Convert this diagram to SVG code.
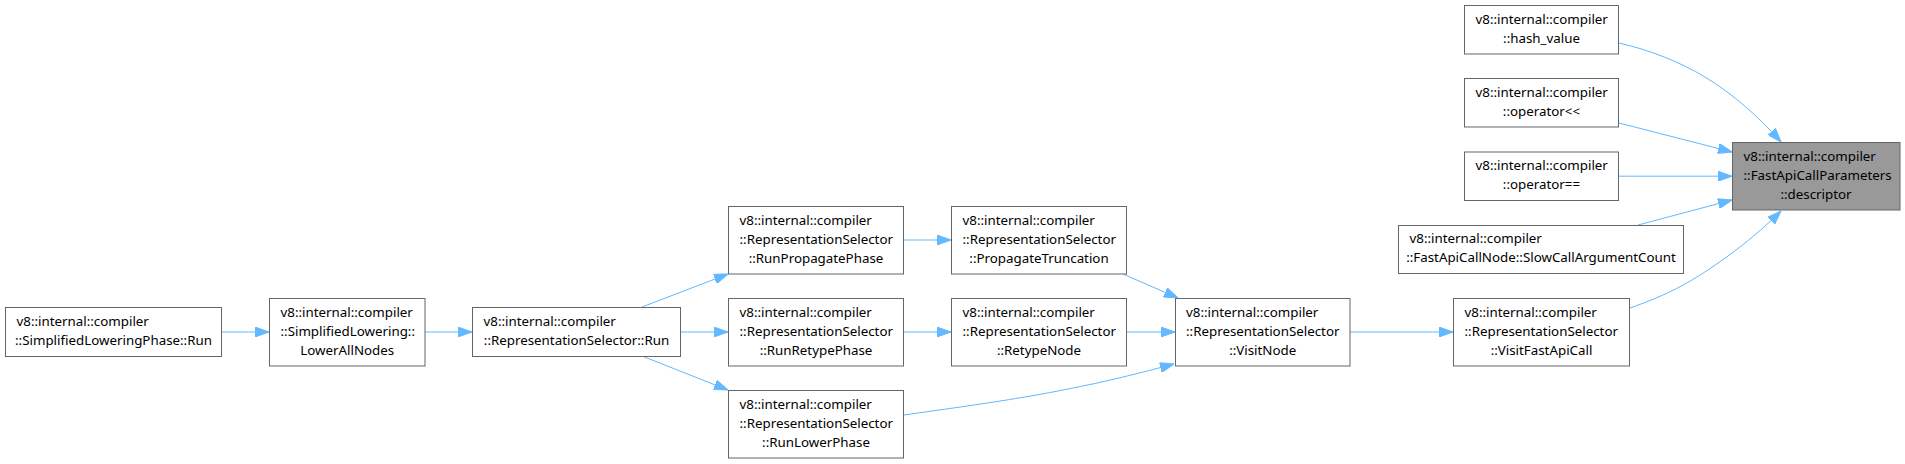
<svg xmlns="http://www.w3.org/2000/svg" width="1905" height="464" viewBox="0 0 1905 464">
<style>
.n rect{fill:#fff;stroke:#666;stroke-width:1}
.n.h rect{fill:#999}
.n text{font-family:"Noto Sans","Open Sans",sans-serif;font-size:13.33px;fill:#000}
.n text.m{text-anchor:middle}
.e path{fill:none;stroke:#63b8ff;stroke-width:1;marker-end:url(#ah)}
</style>
<defs>
<marker id="ah" markerUnits="userSpaceOnUse" markerWidth="14" markerHeight="10" viewBox="0 0 14 10" refX="14" refY="5" orient="auto">
<path d="M0,0 L14,5 L0,10 z" fill="#63b8ff" stroke="#63b8ff" stroke-width="1"/>
</marker>
</defs>
<rect width="1905" height="464" fill="#fff"/>
<g id="edges" class="e">
<path d="M1619,43 C1650,50 1680,62 1705,77 C1733,94 1758,116 1781,142"/>
<path d="M1619,123 L1732,152"/>
<path d="M1619,176.2 L1732,176.2"/>
<path d="M1638,225 L1732,200"/>
<path d="M1630,308 C1650,301 1672,292 1692,280 C1722,262 1755,237 1781,211"/>
<path d="M1350,332 L1453,332"/>
<path d="M1123,274 L1178,298"/>
<path d="M1127,332 L1175,332"/>
<path d="M904,415 C960,407 1020,399 1068,389 C1105,382 1140,373 1174,364"/>
<path d="M904,240 L951,240"/>
<path d="M904,332 L951,332"/>
<path d="M642,307 L728,274"/>
<path d="M680,332 L728,332"/>
<path d="M642,356 L728,390"/>
<path d="M425,332 L472,332"/>
<path d="M222,332 L269,332"/>
</g>
<g id="descriptor" class="n h">
<rect x="1732.5" y="142.5" width="167.5" height="67.5"/>
<text x="1743.5" y="161">v8::internal::compiler</text>
<text x="1743.5" y="180">::FastApiCallParameters</text>
<text class="m" x="1816" y="199">::descriptor</text>
</g>
<g id="hash_value" class="n">
<rect x="1464.5" y="5.5" width="154" height="48.5"/>
<text x="1475.5" y="23.5">v8::internal::compiler</text>
<text class="m" x="1541.5" y="42.5">::hash_value</text>
</g>
<g id="operator_shl" class="n">
<rect x="1464.5" y="78.5" width="154" height="48.5"/>
<text x="1475.5" y="96.8">v8::internal::compiler</text>
<text class="m" x="1541.5" y="115.8">::operator&lt;&lt;</text>
</g>
<g id="operator_eq" class="n">
<rect x="1464.5" y="152" width="154" height="48.5"/>
<text x="1475.5" y="170.2">v8::internal::compiler</text>
<text class="m" x="1541.5" y="189.2">::operator==</text>
</g>
<g id="slowcall" class="n">
<rect x="1398.5" y="225.5" width="285" height="48"/>
<text x="1409.5" y="243.3">v8::internal::compiler</text>
<text class="m" x="1541" y="262.3">::FastApiCallNode::SlowCallArgumentCount</text>
</g>
<g id="visitfastapicall" class="n">
<rect x="1453.5" y="298.5" width="176" height="67.5"/>
<text x="1464.5" y="317">v8::internal::compiler</text>
<text x="1464.5" y="336">::RepresentationSelector</text>
<text class="m" x="1541.5" y="355">::VisitFastApiCall</text>
</g>
<g id="visitnode" class="n">
<rect x="1175.5" y="298.5" width="174.5" height="67.5"/>
<text x="1186" y="317">v8::internal::compiler</text>
<text x="1186" y="336">::RepresentationSelector</text>
<text class="m" x="1262.7" y="355">::VisitNode</text>
</g>
<g id="propagatetruncation" class="n">
<rect x="951.5" y="206.5" width="175" height="67.5"/>
<text x="962.5" y="225">v8::internal::compiler</text>
<text x="962.5" y="244">::RepresentationSelector</text>
<text class="m" x="1039" y="263">::PropagateTruncation</text>
</g>
<g id="retypenode" class="n">
<rect x="951.5" y="298.5" width="175" height="67.5"/>
<text x="962.5" y="317">v8::internal::compiler</text>
<text x="962.5" y="336">::RepresentationSelector</text>
<text class="m" x="1039" y="355">::RetypeNode</text>
</g>
<g id="runpropagatephase" class="n">
<rect x="728.5" y="206.5" width="175" height="67.5"/>
<text x="739.5" y="225">v8::internal::compiler</text>
<text x="739.5" y="244">::RepresentationSelector</text>
<text class="m" x="816" y="263">::RunPropagatePhase</text>
</g>
<g id="runretypephase" class="n">
<rect x="728.5" y="298.5" width="175" height="67.5"/>
<text x="739.5" y="317">v8::internal::compiler</text>
<text x="739.5" y="336">::RepresentationSelector</text>
<text class="m" x="816" y="355">::RunRetypePhase</text>
</g>
<g id="runlowerphase" class="n">
<rect x="728.5" y="390.5" width="175" height="67.5"/>
<text x="739.5" y="409">v8::internal::compiler</text>
<text x="739.5" y="428">::RepresentationSelector</text>
<text class="m" x="816" y="447">::RunLowerPhase</text>
</g>
<g id="rs_run" class="n">
<rect x="472.5" y="307.5" width="208" height="49"/>
<text x="483.5" y="326">v8::internal::compiler</text>
<text class="m" x="576.5" y="345">::RepresentationSelector::Run</text>
</g>
<g id="lowerallnodes" class="n">
<rect x="269.5" y="298.5" width="155.5" height="67.5"/>
<text x="280.5" y="317">v8::internal::compiler</text>
<text x="280.5" y="336">::SimplifiedLowering::</text>
<text class="m" x="347.2" y="355">LowerAllNodes</text>
</g>
<g id="slphase_run" class="n">
<rect x="5.5" y="307.5" width="216" height="49"/>
<text x="16.5" y="326">v8::internal::compiler</text>
<text class="m" x="113.5" y="345">::SimplifiedLoweringPhase::Run</text>
</g>
</svg>
